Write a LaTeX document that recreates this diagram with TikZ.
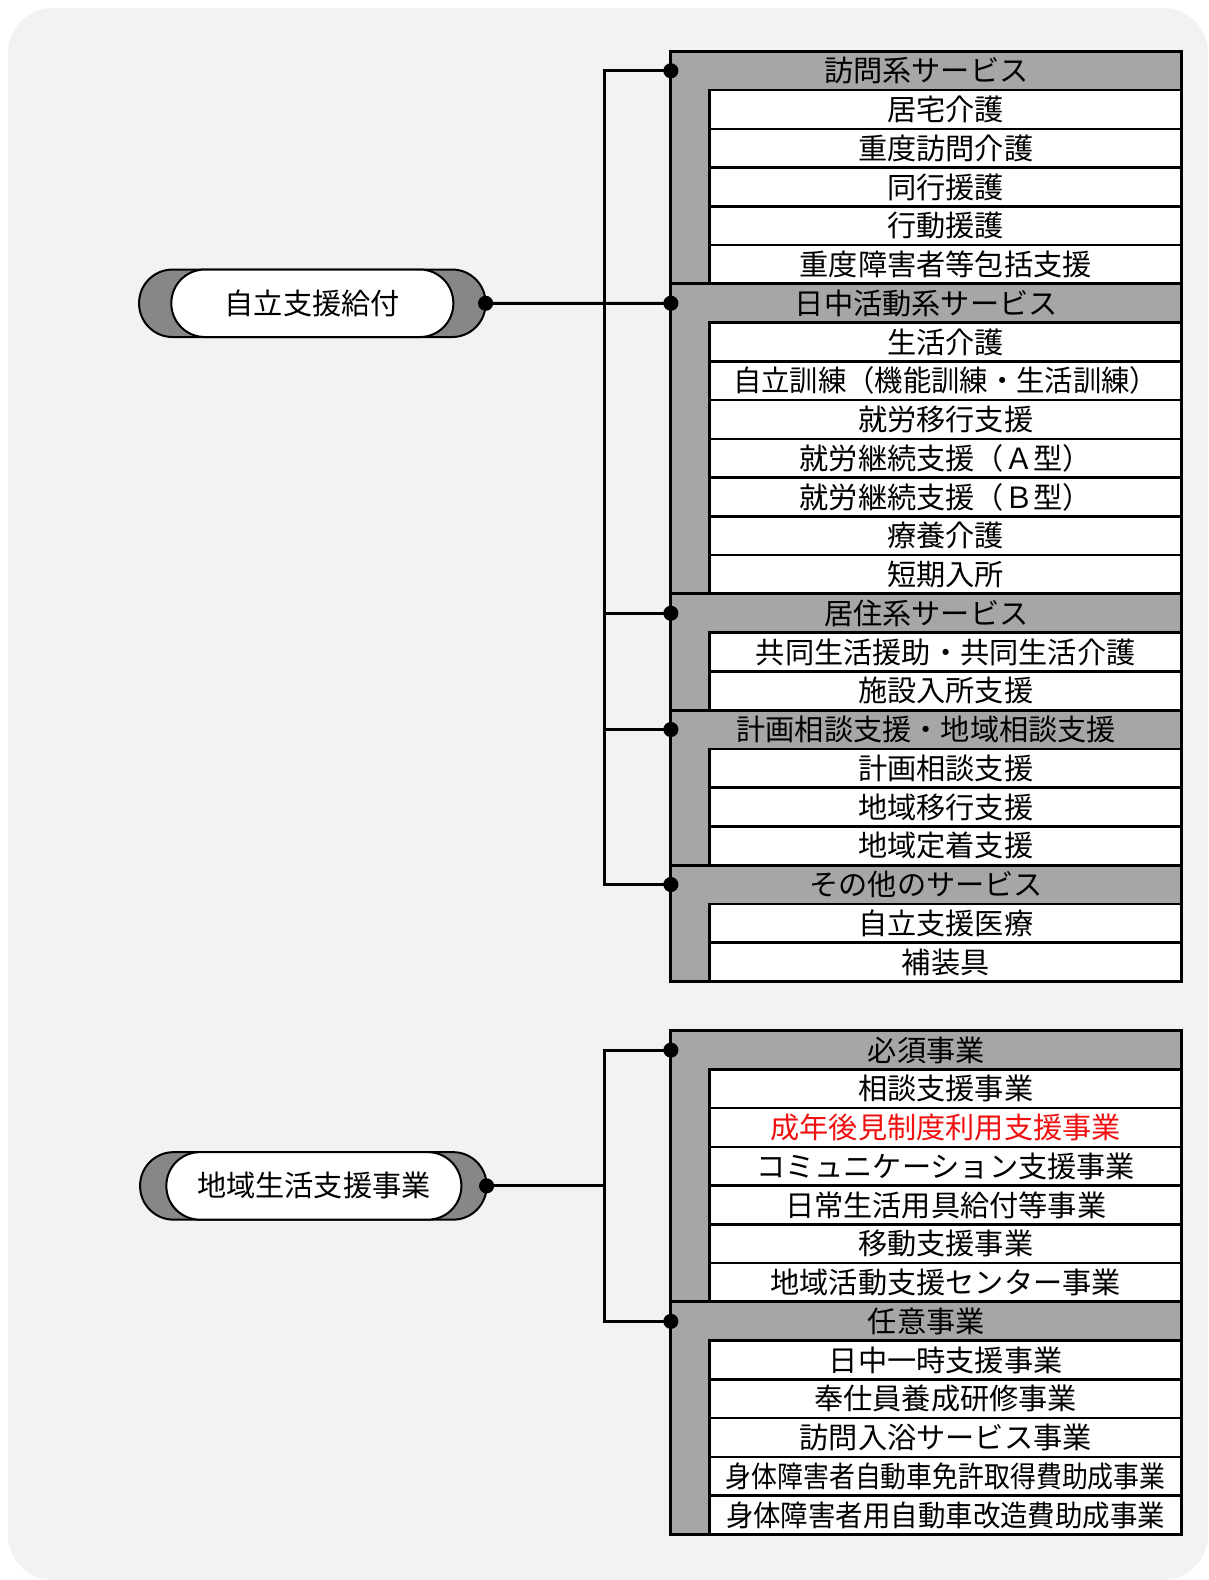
\documentclass[tikz,border=0pt]{standalone}
\usepackage{fontspec}
\newfontfamily\jp{Noto Sans CJK JP}
\usetikzlibrary{positioning}
\definecolor{bggray}{HTML}{F2F2F2}
\definecolor{hdrgray}{HTML}{A6A6A6}
\definecolor{pillgray}{HTML}{878787}
\definecolor{redtext}{HTML}{F01010}
\tikzset{
    txt/.style={font=\jp\fontsize{29.2}{32}\selectfont, inner sep=0pt, outer sep=0pt},
    hdr/.style={txt, anchor=north east, minimum width=511, minimum height=38.75},
    item/.style={txt, anchor=north east, minimum width=472.5, minimum height=38.75,
        draw, fill=white, line width=2.5pt},
    frame/.style={line width=3pt},
    link/.style={line width=3pt},
    pillback/.style={draw, fill=pillgray, line width=2pt, rounded corners=33.5,
        minimum width=346.5, minimum height=67.5, inner sep=0pt, outer sep=0pt},
    pill/.style={txt, draw, fill=white, line width=2pt, rounded corners=33.5,
        minimum height=67.5}
}
\begin{document}
\begin{tikzpicture}[x=1.00755pt, y=-1.00755pt]
    \useasboundingbox (0pt,0pt) rectangle (1208pt,-1580pt);
    \fill[bggray, rounded corners=45pt] (8pt,-8pt) rectangle (1208pt,-1580pt);

    % 自立支援給付
    \fill[hdrgray] (666,51) rectangle (1173,974);
    \node[hdr] (a0) at (1173,51) {訪問系サービス};
    \node[item] (a1) at (a0.south east) {居宅介護};
    \node[item] (a2) at (a1.south east) {重度訪問介護};
    \node[item] (a3) at (a2.south east) {同行援護};
    \node[item] (a4) at (a3.south east) {行動援護};
    \node[item] (a5) at (a4.south east) {重度障害者等包括支援};
    \node[hdr] (a6) at (a5.south east) {日中活動系サービス};
    \node[item] (a7) at (a6.south east) {生活介護};
    \node[item] (a8) at (a7.south east) {\scalebox{0.97}[1]{自立訓練（機能訓練・生活訓練）}};
    \node[item] (a9) at (a8.south east) {就労移行支援};
    \node[item] (a10) at (a9.south east) {就労継続支援（Ａ型）};
    \node[item] (a11) at (a10.south east) {就労継続支援（Ｂ型）};
    \node[item] (a12) at (a11.south east) {療養介護};
    \node[item] (a13) at (a12.south east) {短期入所};
    \node[hdr] (a14) at (a13.south east) {居住系サービス};
    \node[item] (a15) at (a14.south east) {共同生活援助・共同生活介護};
    \node[item] (a16) at (a15.south east) {施設入所支援};
    \node[hdr] (a17) at (a16.south east) {計画相談支援・地域相談支援};
    \node[item] (a18) at (a17.south east) {計画相談支援};
    \node[item] (a19) at (a18.south east) {地域移行支援};
    \node[item] (a20) at (a19.south east) {地域定着支援};
    \node[hdr] (a21) at (a20.south east) {その他のサービス};
    \node[item] (a22) at (a21.south east) {自立支援医療};
    \node[item] (a23) at (a22.south east) {補装具};
    \foreach \h in {a6,a14,a17,a21}
        \draw[frame] (\h.north west) -- (\h.north east);
    \draw[frame] (a0.north west) rectangle (a23.south east);

    \node[pillback] (s1) at (310,301) {};
    \node[pill, minimum width=282] (p1) at (310,301) {自立支援給付};
    \coordinate (bus1) at (600,0);
    \draw[link] (a0.west) -| (bus1 |- a21.west) -- (a21.west);
    \draw[link] (s1.east) -- (a6.west);
    \foreach \h in {a14,a17}
        \draw[link] (bus1 |- \h.west) -- (\h.west);
    \foreach \h in {a0,a6,a14,a17,a21}
        \fill (\h.west) circle (7.5);
    \fill (s1.east) circle (7.5);

    % 地域生活支援事業
    \fill[hdrgray] (666,1023) rectangle (1173,1523);
    \node[hdr] (b0) at (1173,1023) {必須事業};
    \node[item] (b1) at (b0.south east) {相談支援事業};
    \node[item, text=redtext] (b2) at (b1.south east) {成年後見制度利用支援事業};
    \node[item] (b3) at (b2.south east) {コミュニケーション支援事業};
    \node[item] (b4) at (b3.south east) {日常生活用具給付等事業};
    \node[item] (b5) at (b4.south east) {移動支援事業};
    \node[item] (b6) at (b5.south east) {地域活動支援センター事業};
    \node[hdr] (b7) at (b6.south east) {任意事業};
    \node[item] (b8) at (b7.south east) {日中一時支援事業};
    \node[item] (b9) at (b8.south east) {奉仕員養成研修事業};
    \node[item] (b10) at (b9.south east) {訪問入浴サービス事業};
    \node[item] (b11) at (b10.south east) {\scalebox{0.886}[1]{身体障害者自動車免許取得費助成事業}};
    \node[item] (b12) at (b11.south east) {\scalebox{0.94}[1]{身体障害者用自動車改造費助成事業}};
    \draw[frame] (b7.north west) -- (b7.north east);
    \draw[frame] (b0.north west) rectangle (b12.south east);

    \node[pillback] (s2) at (311,1177) {};
    \node[pill, minimum width=295] (p2) at (311.5,1177) {地域生活支援事業};
    \coordinate (bus2) at (600,0);
    \draw[link] (b0.west) -| (bus2 |- b7.west) -- (b7.west);
    \draw[link] (s2.east) -- (bus2 |- s2.east);
    \foreach \h in {b0,b7}
        \fill (\h.west) circle (7.5);
    \fill (s2.east) circle (7.5);
\end{tikzpicture}
\end{document}
